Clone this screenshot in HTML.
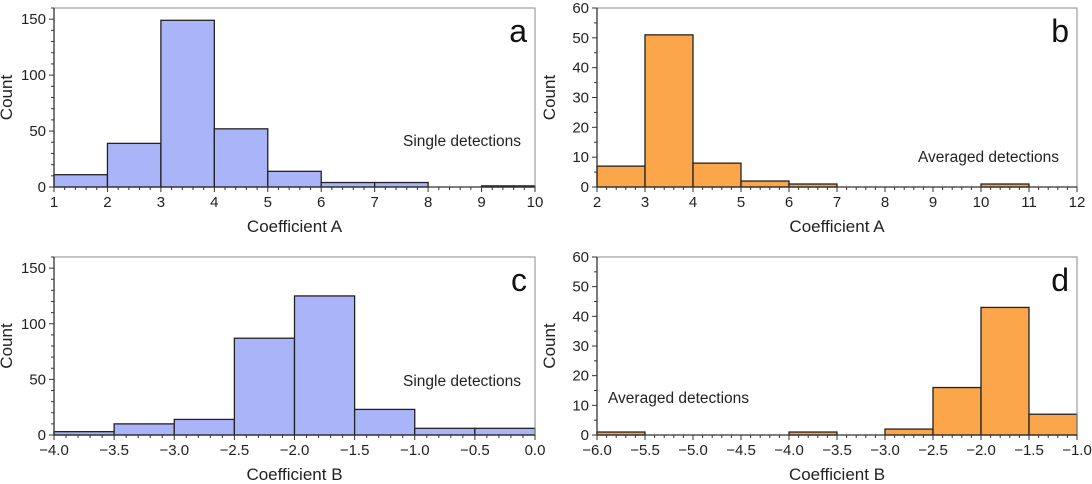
<!DOCTYPE html>
<html><head><meta charset="utf-8"><style>
body{margin:0;background:#fff;}
svg{display:block;font-family:"Liberation Sans",Arial,sans-serif;}
</style></head><body>
<svg id="chart" width="1092" height="484" viewBox="0 0 1092 484"></svg>
<script>
const aEdges=[1,2,3,4,5,6,7,8,9,10];
const aCounts=[11,39,149,52,14,4,4,0,1];
const bEdges=[2,3,4,5,6,7,8,9,10,11,12];
const bCounts=[7,51,8,2,1,0,0,0,1,0];
const cEdges=[-4,-3.5,-3,-2.5,-2,-1.5,-1,-0.5,0];
const cCounts=[3,10,14,87,125,23,6,6];
const dEdges=[-6,-5.5,-5,-4.5,-4,-3.5,-3,-2.5,-2,-1.5,-1];
const dCounts=[1,0,0,0,1,0,2,16,43,7];
const aXTicks=[1,2,3,4,5,6,7,8,9,10];
const bXTicks=[2,3,4,5,6,7,8,9,10,11,12];
const cXTicks=[-4,-3.5,-3,-2.5,-2,-1.5,-1,-0.5,0];
const dXTicks=[-6,-5.5,-5,-4.5,-4,-3.5,-3,-2.5,-2,-1.5,-1];
const abYTicks=[0,50,100,150];
const bdYTicks=[0,10,20,30,40,50,60];

const NS='http://www.w3.org/2000/svg';
const svg=document.getElementById('chart');
function mk(tag,attrs,parent){const e=document.createElementNS(NS,tag);for(const k in attrs)e.setAttribute(k,attrs[k]);(parent||svg).appendChild(e);return e;}
function fmt(v,dec){return (v<0?'\u2212':'')+Math.abs(v).toFixed(dec);}

function panel(p){
  const g=mk('g',{});
  
  
  const X=v=>p.x0+(v-p.xmin)/(p.xmax-p.xmin)*(p.x1-p.x0);
  const Y=v=>p.yb-(v-p.ymin)/(p.ymax-p.ymin)*(p.yb-p.yt);
  for(let i=0;i<p.counts.length;i++){
    if(p.counts[i]<=0)continue;
    const xa=X(p.edges[i]),xb=X(p.edges[i+1]),yv=Y(p.counts[i]);
    const r=mk('rect',{x:xa,y:yv,width:xb-xa,height:p.yb-yv,fill:p.color,stroke:'#222','stroke-width':1.3},g);
    
    
  }
  const f=mk('rect',{x:p.x0,y:p.yt,width:p.x1-p.x0,height:p.yb-p.yt,fill:'none',stroke:'#888','stroke-width':1},g);
  
  
  mk('line',{x1:p.x0,y1:p.yb,x2:p.x1,y2:p.yb,stroke:'#333','stroke-width':1.3},g);
  mk('line',{x1:p.x0,y1:p.yt,x2:p.x0,y2:p.yb,stroke:'#333','stroke-width':1.3},g);
  const xs=p.xt;
  for(let i=0;i<xs.length;i++){
    const x=X(xs[i]);
    mk('line',{x1:x,y1:p.yb,x2:x,y2:p.yb+5,stroke:'#333'},g);
    const t=mk('text',{x:x,y:p.yb+20,'text-anchor':'middle','font-size':15,fill:'#222'},g);
    t.textContent=p.xdec?fmt(xs[i],p.xdec):String(xs[i]);
    
    
    if(i<xs.length-1){
      for(let k=1;k<p.xminor;k++){const xm=X(xs[i]+(xs[i+1]-xs[i])*k/p.xminor);mk('line',{x1:xm,y1:p.yb,x2:xm,y2:p.yb+3,stroke:'#333'},g);}
    }
  }
  const ys=p.yticks;
  for(let i=0;i<ys.length;i++){
    const y=Y(ys[i]);
    mk('line',{x1:p.x0,y1:y,x2:p.x0-5,y2:y,stroke:'#333'},g);
    const t=mk('text',{x:p.x0-8,y:y+5,'text-anchor':'end','font-size':15,fill:'#222'},g);
    t.textContent=String(ys[i]);
    
    
    const step=ys[1]-ys[0];
    for(let k=1;k<p.yminor;k++){const v=ys[i]+step*k/p.yminor;if(v>p.ymax)break;const ym=Y(v);mk('line',{x1:p.x0,y1:ym,x2:p.x0-3,y2:ym,stroke:'#333'},g);}
  }
  const xt=mk('text',{x:(p.x0+p.x1)/2,y:p.yb+45,'text-anchor':'middle','font-size':17,fill:'#222'},g);
  xt.textContent=p.xlabel;
  
  
  const cy=(p.yt+p.yb)/2;
  const yt=mk('text',{x:p.x0-42,y:cy,'text-anchor':'middle','font-size':17,fill:'#222',transform:`rotate(-90 ${p.x0-42} ${cy})`},g);
  yt.textContent='Count';
  
  
  const l=mk('text',{x:p.x1-8,y:p.yt+34,'text-anchor':'end','font-size':32,fill:'#111'},g);
  l.textContent=p.letter;
  
  
  const n=mk('text',{x:p.notex,y:p.notey,'font-size':15.5,fill:'#222'},g);
  n.textContent=p.note;
  
  
}
const blue='#aab4f9',orange='#fca64c';
panel({name:'panel-a',x0:54,x1:535,yt:8,yb:187,xmin:1,xmax:10,ymin:0,ymax:160,edges:aEdges,counts:aCounts,xt:aXTicks,xdec:0,xminor:5,yticks:abYTicks,yminor:5,color:blue,xlabel:'Coefficient A',letter:'a',note:'Single detections',notex:403,notey:146});
panel({name:'panel-b',x0:597,x1:1077,yt:8,yb:187,xmin:2,xmax:12,ymin:0,ymax:60,edges:bEdges,counts:bCounts,xt:bXTicks,xdec:0,xminor:5,yticks:bdYTicks,yminor:2,color:orange,xlabel:'Coefficient A',letter:'b',note:'Averaged detections',notex:918,notey:162});
panel({name:'panel-c',x0:54,x1:535,yt:257,yb:435,xmin:-4,xmax:0,ymin:0,ymax:160,edges:cEdges,counts:cCounts,xt:cXTicks,xdec:1,xminor:5,yticks:abYTicks,yminor:5,color:blue,xlabel:'Coefficient B',letter:'c',note:'Single detections',notex:403,notey:386});
panel({name:'panel-d',x0:597,x1:1077,yt:257,yb:435,xmin:-6,xmax:-1,ymin:0,ymax:60,edges:dEdges,counts:dCounts,xt:dXTicks,xdec:1,xminor:5,yticks:bdYTicks,yminor:2,color:orange,xlabel:'Coefficient B',letter:'d',note:'Averaged detections',notex:608,notey:403});
</script>
</body></html>
